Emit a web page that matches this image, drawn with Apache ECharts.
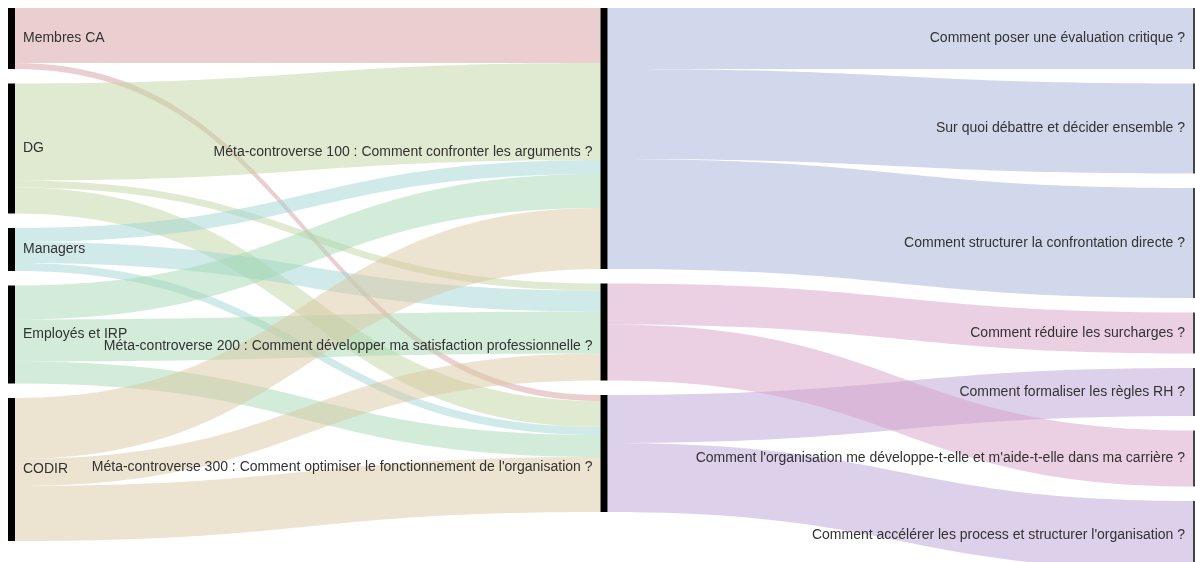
<!DOCTYPE html>
<html>
<head>
<meta charset="utf-8">
<title>Méta-controverses</title>
<script src="https://cdn.jsdelivr.net/npm/echarts@6.0.0/dist/echarts.min.js"></script>
<style>
    html, body {margin: 0; padding: 0; background: #fff;}
    #main {width: 1195px; height: 562px;}
</style>
</head>
<body>
<div id="main"></div>
<script>
//colonne gauche : acteurs
var acteurs = ['Membres CA', 'DG', 'Managers', 'Employés et IRP', 'CODIR'];

//colonne milieu : méta-controverses
var metas = [
    'Méta-controverse 100 : Comment confronter les arguments ?',
    'Méta-controverse 200 : Comment développer ma satisfaction professionnelle ?',
    "Méta-controverse 300 : Comment optimiser le fonctionnement de l'organisation ?"
];

//colonne droite : questions
var questions = [
    'Comment poser une évaluation critique ?',
    'Sur quoi débattre et décider ensemble ?',
    'Comment structurer la confrontation directe ?',
    'Comment réduire les surcharges ?',
    'Comment formaliser les règles RH ?',
    "Comment l'organisation me développe-t-elle et m'aide-t-elle dans ma carrière ?",
    "Comment accélérer les process et structurer l'organisation ?"
];

//flux acteur -> méta-controverse (100, 200, 300)
var fluxMembresCA = [55, 0, 6];
var fluxDG = [97, 7, 26];
var fluxManagers = [14, 21, 8];
var fluxEmployes = [34, 42, 22];
var fluxCODIR = [61, 27, 55];

//flux méta-controverse -> question
var questionMeta = [0, 0, 0, 1, 2, 1, 2];
var questionValeurs = [61, 90, 110, 41, 48, 56, 69];

var flux = [fluxMembresCA, fluxDG, fluxManagers, fluxEmployes, fluxCODIR];

//couleurs des liens (couleur de la source)
var couleursActeurs = ['#d79fa1', '#bfd5a1', '#a1d5d5', '#a5d9b3', '#d9c7a1']
    , couleursMetas = ['#a5b1d7', '#d7a1c7', '#bba1d7'];

var nodes = [], links = [];
acteurs.forEach(function (n) {
    nodes.push({name: n, depth: 0, itemStyle: {color: '#000'}});
});
metas.forEach(function (n) {
    nodes.push({name: n, depth: 1, itemStyle: {color: '#000'}});
});
questions.forEach(function (n) {
    nodes.push({name: n, depth: 2, itemStyle: {color: '#444'}});
});

for (var i = 0; i < acteurs.length; i++) {
    for (var j = 0; j < metas.length; j++) {
        if (flux[i][j] > 0) {
            links.push({
                source: acteurs[i], target: metas[j], value: flux[i][j],
                lineStyle: {color: couleursActeurs[i]}
            });
        }
    }
}
for (var k = 0; k < questions.length; k++) {
    links.push({
        source: metas[questionMeta[k]], target: questions[k], value: questionValeurs[k],
        lineStyle: {color: couleursMetas[questionMeta[k]]}
    });
}

var chart = echarts.init(document.getElementById('main'));
chart.setOption({
    animation: false,
    series: [{
        type: 'sankey',
        left: 8,
        top: 8,
        width: 1192,
        height: 562,
        nodeWidth: 7,
        nodeGap: 14.5,
        //garder l'ordre des noeuds tel que saisi
        layoutIterations: 0,
        draggable: false,
        emphasis: {disabled: true},
        label: {
            color: '#333',
            fontSize: 14,
            fontFamily: '"Liberation Sans", Arial, sans-serif',
            distance: 8
        },
        levels: [
            {depth: 0, label: {position: 'right'}},
            //décalé vers le bas pour ne pas chevaucher "Employés et IRP"
            {depth: 1, label: {position: 'left', offset: [0, 14]}},
            {depth: 2, label: {position: 'left'}}
        ],
        lineStyle: {curveness: 0.5, opacity: 0.5},
        data: nodes,
        links: links
    }]
});
window.onresize = chart.resize;
</script>
</body>
</html>
